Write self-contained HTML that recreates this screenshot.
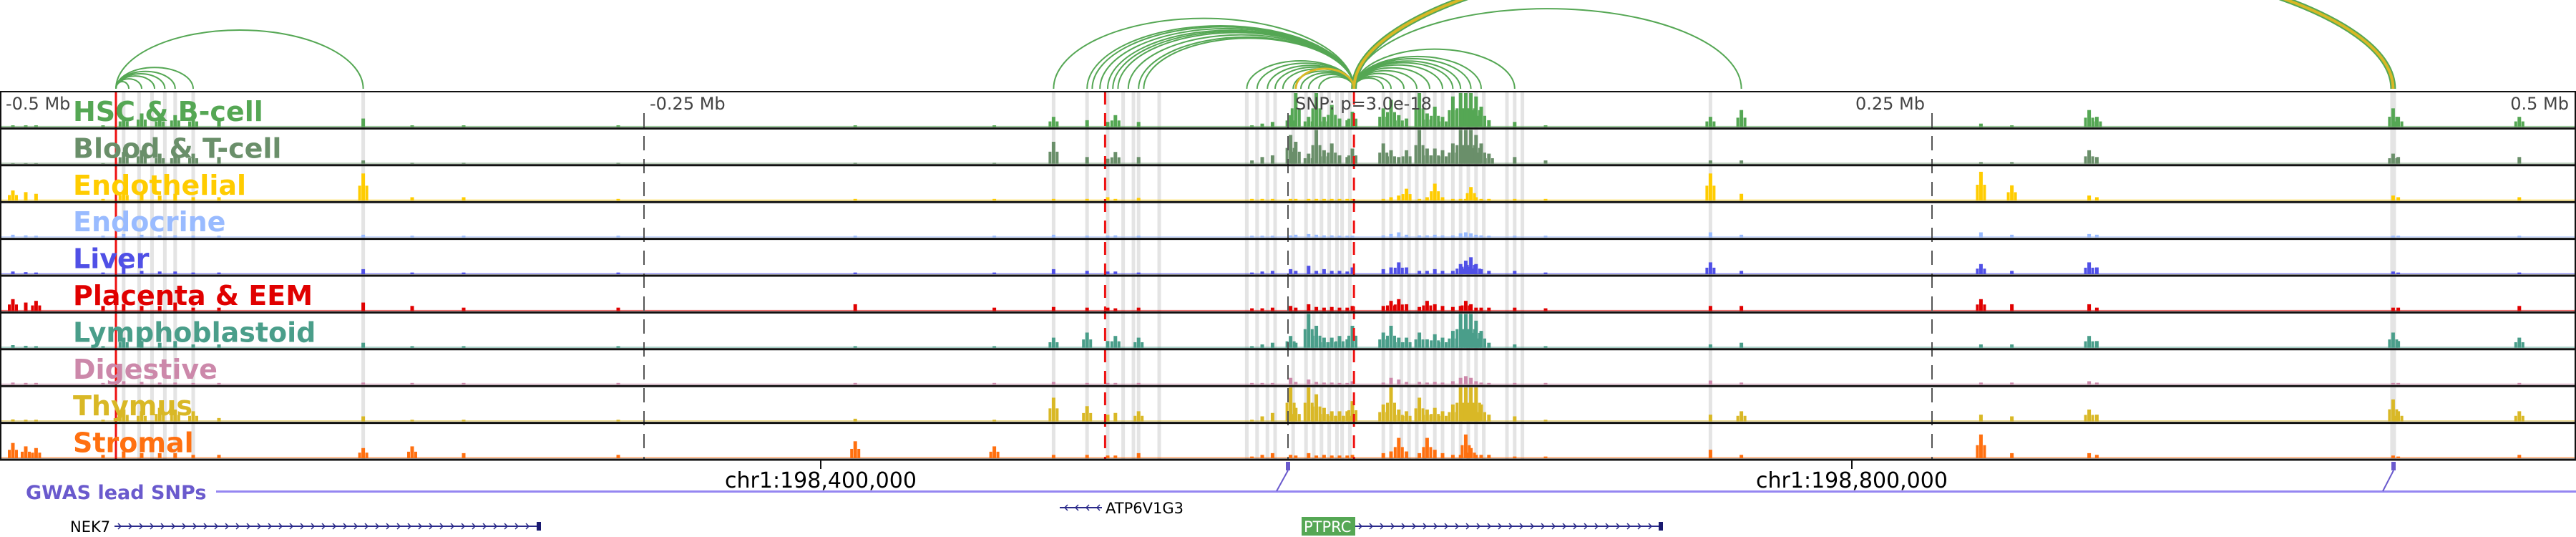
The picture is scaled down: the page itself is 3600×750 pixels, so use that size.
<!DOCTYPE html>
<html><head><meta charset="utf-8"><style>
html,body{margin:0;padding:0;background:#fff;}
svg{display:block;font-family:"DejaVu Sans","Liberation Sans",sans-serif;}
</style></head><body>
<svg id="chart" width="3600" height="750" viewBox="0 0 3600 750" xmlns="http://www.w3.org/2000/svg">
<g id="bands"></g><g id="arcs"></g><g id="bars"></g><g id="grid"></g><g id="frame"></g><g id="labels"></g><g id="bottom"></g>
</svg>
<script>
// ---- data ----
const trackNames = ["HSC & B-cell","Blood & T-cell","Endothelial","Endocrine","Liver","Placenta & EEM","Lymphoblastoid","Digestive","Thymus","Stromal"];
const trackColors = ["#55a754","#6a8f6a","#ffcc00","#99bbff","#5050e6","#e00000","#4a9e8a","#cc88aa","#d9b826","#ff7010"];
const bins = [-495,-490,-486,-460,-452,-445,-438,-432,-425,-415,-359,-340,-320,-260,-168,-114,-91,-78,-70,-67,-58,-14,-10,-6,1,3,8,11,14,17,20,23,25,37,40,43,46,51,54,57,60,64,67,69,71,73,75,78,88,100,164,176,269,281,311,314,429,431,478];
const hscVals = [.05,.05,.05,.05,.3,.4,.3,.35,.3,.2,.25,.05,.05,.05,.05,.05,.3,.2,.15,.35,.15,.05,.1,.15,.35,1,.3,1,.3,.65,.25,.2,.45,.55,.8,.35,.25,1,.4,.6,.3,.9,1,1,1,.9,.6,.2,.15,.05,.3,.5,.1,.05,.5,.3,.55,.3,.3];
const bloodVals = [.02,.02,.02,.02,.35,.4,.3,.3,.3,.2,.1,.03,.03,.03,.03,.03,.65,.2,.15,.35,.2,.1,.2,.25,.85,.65,.3,1,.4,.6,.25,.2,.45,.6,.4,.2,.4,1,.45,.45,.4,.6,1,1,1,.85,.6,.3,.2,.1,.1,.1,.05,.05,.4,.2,.3,.2,.2];
const endoVals = [.3,.25,.2,.05,.3,.2,.15,.2,.1,.1,.8,.1,.1,.05,.05,.05,.05,.05,.1,.05,.08,.05,.05,.05,.05,.05,.05,.05,.05,.05,.05,.05,.05,.05,.1,.15,.35,.05,.1,.5,.1,.05,.05,.05,.4,.1,.05,.05,.05,.05,.8,.2,.85,.45,.15,.1,.15,.1,.1];
const endocrineVals = [.08,.06,.05,.05,.1,.08,.06,.06,.05,.05,.08,.05,.05,.05,.05,.05,.08,.05,.05,.06,.05,.05,.05,.05,.06,.08,.1,.08,.06,.06,.05,.05,.05,.06,.1,.15,.08,.06,.06,.08,.06,.06,.12,.15,.12,.08,.06,.05,.05,.05,.15,.08,.15,.08,.1,.08,.05,.05,.05];
const liverVals = [.08,.06,.05,.05,.2,.1,.08,.08,.05,.05,.15,.05,.05,.05,.05,.05,.15,.1,.08,.08,.05,.05,.08,.1,.15,.1,.25,.1,.15,.1,.1,.08,.2,.15,.2,.35,.2,.1,.1,.15,.1,.1,.3,.4,.5,.3,.15,.1,.1,.05,.35,.1,.3,.1,.35,.2,.08,.05,.05];
const placentaVals = [.35,.25,.3,.15,.2,.15,.15,.25,.1,.1,.25,.15,.1,.1,.2,.1,.12,.1,.1,.08,.1,.08,.08,.1,.15,.1,.2,.12,.1,.12,.1,.1,.15,.15,.3,.35,.2,.12,.3,.2,.15,.12,.15,.3,.2,.1,.1,.1,.1,.08,.15,.15,.35,.2,.2,.1,.1,.1,.15];
const lymphoVals = [.08,.06,.05,.05,.3,.2,.15,.2,.1,.1,.15,.05,.05,.05,.05,.05,.3,.45,.2,.35,.3,.05,.1,.15,.35,.15,1,.65,.3,.3,.35,.25,.65,.45,.65,.3,.3,.45,.25,.4,.3,.5,1,1,1,.8,.5,.15,.1,.05,.1,.15,.1,.1,.35,.2,.45,.2,.3];
const digestiveVals = [.06,.05,.05,.05,.1,.08,.06,.06,.05,.05,.06,.05,.05,.05,.05,.05,.08,.05,.05,.05,.05,.05,.05,.05,.2,.08,.15,.08,.06,.06,.05,.05,.1,.06,.2,.15,.08,.08,.06,.08,.06,.1,.2,.25,.2,.1,.06,.05,.05,.05,.12,.06,.06,.06,.1,.06,.05,.05,.05];
const thymusVals = [.06,.05,.05,.05,.35,.3,.4,.35,.3,.1,.15,.05,.05,.05,.08,.05,.7,.45,.2,.25,.3,.05,.15,.25,1,.4,1,.8,.4,.3,.3,.3,.6,.5,1,.35,.3,.7,.35,.4,.3,.5,1,1,1,1,.5,.2,.15,.05,.2,.3,.2,.15,.35,.2,.65,.3,.3];
const stromalVals = [.45,.35,.3,.1,.2,.15,.15,.15,.1,.1,.3,.35,.15,.1,.5,.35,.1,.1,.08,.08,.15,.05,.1,.15,.1,.08,.15,.08,.1,.08,.08,.08,.1,.15,.2,.6,.2,.15,.6,.25,.15,.1,.1,.7,.3,.1,.1,.1,.05,.05,.25,.1,.7,.15,.15,.1,.08,.05,.1];
const seriesVals = [hscVals,bloodVals,endoVals,endocrineVals,liverVals,placentaVals,lymphoVals,digestiveVals,thymusVals,stromalVals];
const highlightBins = [-452,-446,-441,-436,-432,-425,-359,-91,-78,-70,-64,-60,-58,-50,-16,-12,-8,-5,2,7,10,13,16,19,21,24,37,40,44,47,50,53,57,60,64,67,70,73,76,85,88,91,164,429];
const snpLines = [-455,-71,25.6];
const axisTicks = [-0.5,-0.25,0,0.25,0.5];
const axisTickLabels = ["-0.5 Mb","-0.25 Mb","","0.25 Mb","0.5 Mb"];
const arcStarts = [-455,-455,-455,-455,-455,-455,-455,25.6,25.6,25.6,25.6,25.6,25.6,25.6,25.6,25.6,25.6,25.6,25.6,25.6,25.6,25.6,25.6,25.6,25.6,25.6,25.6,25.6,25.6,25.6,25.6,25.6,25.6,25.6,25.6,25.6,25.6,25.6];
const arcEnds = [-450,-445,-440,-436,-432,-425,-359,-91,-78,-76,-73,-70,-68,-66,-62,-58,-56,-16,-12,-8,-5,-2,2,5,8,12,37,40,45,50,55,60,64,67,71,75,88,176];
const arcColorIdx = [0,0,0,0,0,0,0,0,0,0,0,0,0,0,0,0,0,0,0,0,0,0,0,0,0,0,0,0,0,0,0,0,0,0,0,0,0,0];
const bigArcs = [[25.6,429,"#55a754",8,205],[25.6,429,"#d9b826",4,205],[25.6,3,"#d9b826",3,28]];
// ---- scales ----
const NS="http://www.w3.org/2000/svg";
const X0=1800, PXPERKB=3.6, TOP=128, TH=51.4, BASE=124;
function xs(kb){return X0+kb*PXPERKB;}
function ys(v,i){return TOP+(i+1)*TH-2 - v*(TH-4);}
function mk(tag,attrs,parent){const e=document.createElementNS(NS,tag);for(const k in attrs)e.setAttribute(k,attrs[k]);parent.appendChild(e);return e;}
const gB=document.getElementById('bands'),gA=document.getElementById('arcs'),gR=document.getElementById('bars'),gG=document.getElementById('grid'),gF=document.getElementById('frame'),gL=document.getElementById('labels'),gBt=document.getElementById('bottom');
highlightBins.forEach(kb=>{const w=kb===429?8:5;
 const r=mk('rect',{x:xs(kb)-w/2,y:TOP,width:w,height:TH*10,fill:'#e4e4e4'},gB);
 
 });
function arc(a,b,color,sw,hh){const x1=xs(a),x2=xs(b);const span=Math.abs(x2-x1);const h=hh||Math.min(0.22*span+6,112);
 return mk('path',{d:`M${Math.min(x1,x2)} ${BASE} A ${span/2} ${h} 0 0 1 ${Math.max(x1,x2)} ${BASE}`,fill:'none',stroke:color,'stroke-width':sw},gA);}
arcStarts.forEach((s,i)=>{const p=arc(s,arcEnds[i],trackColors[arcColorIdx[i]],2);
 
 });
bigArcs.forEach(a=>{const p=arc(a[0],a[1],a[2],a[3],a[4]);
 
 });
seriesVals.forEach((vals,i)=>{const col=trackColors[i];const bot=TOP+(i+1)*TH-2;
 const bl=mk('rect',{x:0,y:bot-1.5,width:3600,height:1.5,fill:col,opacity:.6},gR);
 
 
 vals.forEach((v,j)=>{const y=ys(v,i);
  const r=mk('rect',{x:xs(bins[j])-2.5,y:y,width:5,height:bot-y,fill:col},gR);
  
  
  if(v>0.25){[-5,5].forEach(d=>{const y2=ys(v*0.55,i);
   const r2=mk('rect',{x:xs(bins[j])+d-2,y:y2,width:4,height:bot-y2,fill:col},gR);
   
   });}
 });});
[-250,0,250].forEach(kb=>{const l=mk('line',{x1:xs(kb),x2:xs(kb),y1:TOP+30,y2:TOP+TH*10,stroke:'#555','stroke-width':2,'stroke-dasharray':'20 12'},gG);
 
 });
snpLines.forEach(kb=>{const l=mk('line',{x1:xs(kb),x2:xs(kb),y1:TOP,y2:TOP+TH*10,stroke:'#ee1111','stroke-width':3,'stroke-dasharray':kb===-455?'none':'18 12'},gG);
 
 });
for(let i=0;i<=10;i++){const l=mk('line',{x1:0,x2:3600,y1:TOP+i*TH,y2:TOP+i*TH,stroke:'#111','stroke-width':i===0?2:3},gF);
 
 }
mk('line',{x1:1,x2:1,y1:TOP,y2:TOP+TH*10,stroke:'#111','stroke-width':2},gF);
mk('line',{x1:3599,x2:3599,y1:TOP,y2:TOP+TH*10,stroke:'#111','stroke-width':2},gF);
trackNames.forEach((n,i)=>{const t=mk('text',{x:102,y:TOP+i*TH+41,fill:trackColors[i],'font-size':38,'font-weight':'bold'},gL);
 t.textContent=n;
 
 });
axisTicks.forEach((m,i)=>{if(!axisTickLabels[i])return;const x=xs(m*1000);
 const anchor=m<0?'start':'end';const t=mk('text',{x:m<0?x+8:x-10,y:TOP+25,fill:'#444','font-size':24,'text-anchor':anchor},gL);
 t.textContent=axisTickLabels[i];
 
 });
const snpT=mk('text',{x:1810,y:TOP+25,fill:'#444','font-size':24},gL);snpT.textContent='SNP: p=3.0e-18';


const bottomTicks=[1147,2588];const bottomLabels=["chr1:198,400,000","chr1:198,800,000"];
bottomTicks.forEach((x,i)=>{mk('line',{x1:x,x2:x,y1:643,y2:655,stroke:'#111','stroke-width':2},gBt);
 const t=mk('text',{x:x,y:681,'font-size':30,'text-anchor':'middle',fill:'#000'},gBt);t.textContent=bottomLabels[i];
 
 });
const gw=mk('text',{x:36,y:697,'font-size':27,'font-weight':'bold',fill:'#6a5acd'},gBt);gw.textContent='GWAS lead SNPs';


mk('rect',{x:302,y:685,width:3298,height:3,fill:'#7b68ee',opacity:.8},gBt);
[[1800,1784],[3345,3330]].forEach(p=>{const r=mk('rect',{x:p[0]-3,y:645,width:6,height:12,fill:'#6a5acd'},gBt);
 
 
 mk('line',{x1:p[0],y1:657,x2:p[1],y2:686,stroke:'#6a5acd','stroke-width':2},gBt);});
function gene(x1,x2,y,dir,color){mk('line',{x1:x1,x2:x2,y1:y,y2:y,stroke:color,'stroke-width':2},gBt);
 for(let x=x1+8;x<x2-4;x+=15){mk('polyline',{points:dir>0?`${x-3},${y-4} ${x+1},${y} ${x-3},${y+4}`:`${x+3},${y-4} ${x-1},${y} ${x+3},${y+4}`,fill:'none',stroke:color,'stroke-width':1.5},gBt);}}
gene(1481,1540,709,-1,'#2a2a8a');
const atp=mk('text',{x:1545,y:717,'font-size':21,fill:'#000'},gBt);atp.textContent='ATP6V1G3';


gene(160,752,735,1,'#2a2a8a');mk('rect',{x:750,y:729,width:6,height:12,fill:'#1a1a70'},gBt);
const nek=mk('text',{x:98,y:743,'font-size':21,fill:'#000'},gBt);nek.textContent='NEK7';


const pb=mk('rect',{x:1819,y:722,width:75,height:26,fill:'#55a754'},gBt);


const pt=mk('text',{x:1822,y:743,'font-size':21,fill:'#fff'},gBt);pt.textContent='PTPRC';


gene(1894,2322,735,1,'#2a2a8a');mk('rect',{x:2318,y:729,width:6,height:12,fill:'#1a1a70'},gBt);
</script>
</body></html>
